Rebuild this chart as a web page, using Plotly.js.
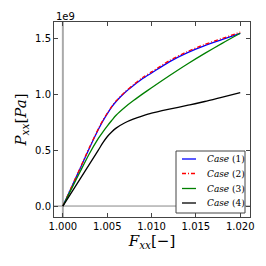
<!DOCTYPE html>
<html><head><meta charset="utf-8">
<script src="https://cdn.plot.ly/plotly-3.0.1.min.js"></script>
<style>html,body{margin:0;padding:0;background:#fff}#chart{width:266px;height:266px}</style>
</head><body><div id="chart"></div>
<script>
// strain F_xx [-]
const Fxx = [1.000, 1.001, 1.002, 1.003, 1.004, 1.0045, 1.005, 1.0055, 1.006, 1.007, 1.008, 1.009, 1.010, 1.012, 1.014, 1.016, 1.018, 1.020];
// stress P_xx in units of 1e9 Pa
const case1 = [0, 0.172, 0.345, 0.52, 0.685, 0.76, 0.825, 0.885, 0.935, 1.015, 1.08, 1.14, 1.19, 1.29, 1.37, 1.435, 1.49, 1.545];
const case2 = [0, 0.174, 0.35, 0.525, 0.69, 0.765, 0.83, 0.89, 0.94, 1.02, 1.088, 1.15, 1.20, 1.30, 1.38, 1.445, 1.50, 1.555];
const case3 = [0, 0.158, 0.316, 0.47, 0.605, 0.662, 0.715, 0.765, 0.812, 0.884, 0.946, 1.003, 1.058, 1.165, 1.268, 1.365, 1.457, 1.545];
const case4 = [0, 0.125, 0.25, 0.375, 0.50, 0.565, 0.62, 0.662, 0.697, 0.745, 0.779, 0.806, 0.83, 0.866, 0.90, 0.935, 0.975, 1.015];
const caseNames = ['<i>Case</i> (1)', '<i>Case</i> (2)', '<i>Case</i> (3)', '<i>Case</i> (4)'];
const caseColors = ['#0000ff', '#ff0000', '#008000', '#000000'];
const caseDash = ['solid', '4px,2px,1px,2px', 'solid', 'solid'];
const xTicks = [1.000, 1.005, 1.010, 1.015, 1.020];
const yTicks = [0.0, 0.5, 1.0, 1.5];
const refX = 1.0, refY = 0.0;

const series = [case1, case2, case3, case4];
const traces = series.map((y, i) => ({x: Fxx, y: y, name: caseNames[i], type: 'scatter', mode: 'lines',
  showlegend: false, line: {color: caseColors[i], width: 1.3, dash: caseDash[i], shape: 'spline', smoothing: 0.7}}));

// custom compact legend (matplotlib style), in paper coordinates
const px = v => (v - 54) / 196, py = v => (217 - v) / 195;
const legShapes = [{type: 'rect', xref: 'paper', yref: 'paper', x0: px(176), x1: px(245), y0: py(213), y1: py(151),
  fillcolor: '#fff', line: {color: '#444', width: 1}, layer: 'above'}];
const legAnn = [];
const rowY = [159, 173.5, 188.5, 203];
caseNames.forEach((n, i) => {
  legShapes.push({type: 'line', xref: 'paper', yref: 'paper', x0: px(182), x1: px(196), y0: py(rowY[i]), y1: py(rowY[i]),
    line: {color: caseColors[i], width: 1.3, dash: caseDash[i]}, layer: 'above'});
  legAnn.push({text: n, xref: 'paper', yref: 'paper', x: px(205), y: py(rowY[i]), xanchor: 'left', yanchor: 'middle',
    showarrow: false, font: {family: 'DejaVu Serif', size: 9, color: '#000'}});
});

const axBase = {showline: true, linecolor: '#444', linewidth: 1, mirror: 'ticks', ticks: 'inside', ticklen: 4,
  tickcolor: '#444', showgrid: false, zeroline: false, tickfont: {family: 'DejaVu Sans', size: 10, color: '#000'}};
const layout = {
  width: 266, height: 266,
  margin: {l: 54, r: 16, t: 22, b: 49},
  paper_bgcolor: '#fff', plot_bgcolor: '#fff',
  showlegend: false,
  xaxis: Object.assign({}, axBase, {range: [0.999, 1.0211], tickvals: xTicks, ticktext: xTicks.map(v => v.toFixed(3)),
    title: {text: '<i>F</i><sub><i>xx</i></sub>[−]', font: {family: 'DejaVu Serif', size: 15, color: '#000'}, standoff: 2}}),
  yaxis: Object.assign({}, axBase, {range: [-0.098, 1.646], tickvals: yTicks, ticktext: yTicks.map(v => v.toFixed(1)),
    title: {text: '<i>P</i><sub><i>xx</i></sub>[<i>Pa</i>]', font: {family: 'DejaVu Serif', size: 15, color: '#000'}, standoff: 4}}),
  shapes: [
    {type: 'line', xref: 'x', yref: 'paper', x0: refX, x1: refX, y0: 0, y1: 1, line: {color: '#aaaaaa', width: 2}, layer: 'below'},
    {type: 'line', xref: 'paper', yref: 'y', x0: 0, x1: 1, y0: refY, y1: refY, line: {color: '#888888', width: 1}, layer: 'below'}
  ].concat(legShapes),
  annotations: [
    {text: '1e9', xref: 'paper', yref: 'paper', x: 0, y: 1, xanchor: 'left', yanchor: 'bottom', showarrow: false,
      font: {family: 'DejaVu Sans', size: 10, color: '#000'}, yshift: -2}
  ].concat(legAnn)
};
Plotly.newPlot('chart', traces, layout, {staticPlot: true, displayModeBar: false});
</script></body></html>
